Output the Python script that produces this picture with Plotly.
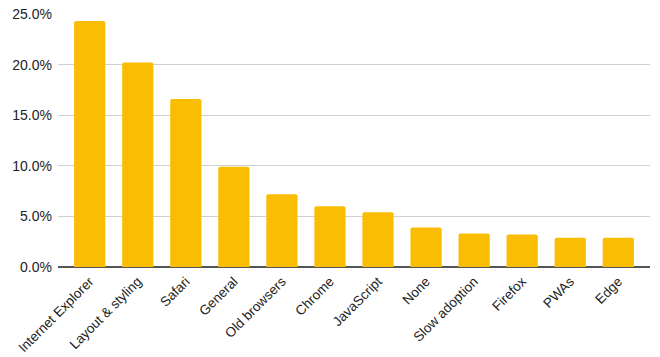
import plotly.graph_objects as go

categories = ["Internet Explorer", "Layout & styling", "Safari", "General", "Old browsers",
              "Chrome", "JavaScript", "None", "Slow adoption", "Firefox", "PWAs", "Edge"]
values = [0.243, 0.202, 0.166, 0.099, 0.072, 0.060, 0.054, 0.039, 0.033, 0.032, 0.029, 0.029]
y_ticks = [0, 0.05, 0.10, 0.15, 0.20, 0.25]

fig = go.Figure(go.Bar(x=list(range(len(categories))), y=values, marker_color="#FBBC04",
                       marker_line_width=0))
fig.update_layout(
    width=660, height=357,
    margin=dict(l=58, r=10, t=14, b=90),
    paper_bgcolor="white", plot_bgcolor="white",
    bargap=0.35, barcornerradius=2,
    font=dict(family="Liberation Sans, Arial, sans-serif", size=14, color="#222222"),
    showlegend=False,
)
fig.update_xaxes(tickmode="array", tickvals=list(range(len(categories))), ticktext=categories,
                 tickangle=-45, range=[-0.66, 11.66], showgrid=False, ticks="",
                 showline=False, zeroline=False, tickfont=dict(size=13.5), automargin=False,
                 ticklabelstandoff=3, ticklabeloverflow="allow")
fig.update_yaxes(range=[0, 0.25], tickvals=y_ticks, tickformat=".1%", showgrid=True,
                 gridcolor="#d0d0d0", gridwidth=1, zeroline=True, zerolinecolor="#555555",
                 zerolinewidth=1.5, showline=False, ticks="", ticklen=0, tickfont=dict(size=14),
                 automargin=False, ticklabeloverflow="allow", ticklabelstandoff=5)
fig.write_html("out.html", config={"displayModeBar": False},
               post_script="document.body.style.margin='0';document.body.style.overflow='hidden';")
